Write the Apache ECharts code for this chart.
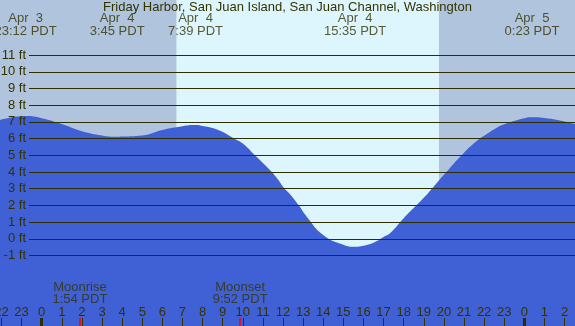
<!DOCTYPE html>
<html>
<head>
<meta charset="utf-8">
<script src="https://cdn.jsdelivr.net/npm/echarts@6/dist/echarts.min.js"></script>
<style>
  html, body { margin: 0; padding: 0; background: #ffffff; }
  #chart { width: 575px; height: 326px; }
</style>
</head>
<body>
<div id="chart"></div>
<script>
// tide heights (ft), hours counted from Apr 4 00:00 PDT
const tideHours = [-2.1, -0.8, 0, 1, 2, 3, 3.75, 4, 5, 6, 7, 7.65, 8, 8.45, 9, 9.5, 10, 10.6, 11, 11.44, 11.77, 12, 12.35, 12.78, 13.18, 14, 15, 15.58, 16, 16.49, 17, 17.32, 18, 19, 19.56, 20, 21, 21.8, 22, 22.63, 23, 24, 24.38, 25, 26, 26.6];
const tideFeet = [7.1, 7.35, 7.22, 6.87, 6.44, 6.19, 6.11, 6.12, 6.19, 6.52, 6.74, 6.81, 6.76, 6.65, 6.4, 6.05, 5.7, 5.0, 4.54, 4.0, 3.52, 3.12, 2.66, 2.0, 1.32, 0.22, -0.36, -0.48, -0.42, -0.24, 0.11, 0.33, 1.23, 2.45, 3.22, 3.83, 5.16, 6.02, 6.17, 6.65, 6.86, 7.22, 7.28, 7.23, 7.03, 6.85];

// high / low tide labels
const extremeHours = [-0.8, 3.75, 7.65, 15.583, 24.383];
const extremeDates = ['Apr  3', 'Apr  4', 'Apr  4', 'Apr  4', 'Apr  5'];
const extremeTimes = ['23:12 PDT', '3:45 PDT', '7:39 PDT', '15:35 PDT', '0:23 PDT'];

// moon events
const moonHours = [1.9, 9.867, 26.683];
const moonNames = ['Moonrise', 'Moonset', 'Moonrise'];
const moonTimes = ['1:54 PDT', '9:52 PDT', '2:41 PDT'];

// sunrise / sunset
const sunrise = 6.713;
const sunset = 19.756;
const midnights = [0, 24];

const feetTicks = { min: -1, max: 11 };
const hourTicks = { min: -2, max: 26 };

// layout
const W = 575, H = 326;
const X_ZERO = 41.7;      // pixel of Apr 4 00:00
const PX_PER_H = 20.11;
const Y_ZERO = 238.75;    // pixel of 0 ft
const PX_PER_FT = 16.69;
const TOP_LABEL_Y = 24.75;
const MOON_LABEL_Y = 293.5;
const TEXT = '#333300';
const FONT = 'Liberation Sans';

const xMin = -X_ZERO / PX_PER_H;
const xMax = (W - X_ZERO) / PX_PER_H;
const yMin = (Y_ZERO - H) / PX_PER_FT;
const yMax = Y_ZERO / PX_PER_FT;
const ftToPx = v => Y_ZERO - v * PX_PER_FT;
const hToPx = h => X_ZERO + h * PX_PER_H;

const chart = echarts.init(document.getElementById('chart'));

const labelStyle = {
  show: true, position: 'inside', formatter: p => p.name,
  fontSize: 13, lineHeight: 12.5, color: TEXT, fontFamily: FONT, align: 'center'
};

const option = {
  animation: false,
  textStyle: { fontFamily: FONT },
  title: {
    text: 'Friday Harbor, San Juan Island, San Juan Channel, Washington',
    left: 'center',
    top: 1,
    padding: 0,
    textStyle: { fontSize: 13, fontWeight: 'normal', color: TEXT, fontFamily: FONT }
  },
  grid: [
    { left: 0, right: 0, top: 0, bottom: 0, outerBoundsMode: 'none', containLabel: false },
    { left: 29, right: 0, top: ftToPx(feetTicks.max), bottom: H - ftToPx(feetTicks.min), outerBoundsMode: 'none', containLabel: false },
    { left: hToPx(hourTicks.min), right: W - hToPx(hourTicks.max), top: 318, height: 8, outerBoundsMode: 'none', containLabel: false }
  ],
  xAxis: [
    { gridIndex: 0, type: 'value', min: xMin, max: xMax, show: false },
    { gridIndex: 1, type: 'value', min: 0, max: 1, show: false },
    {
      gridIndex: 2, type: 'value', min: hourTicks.min, max: hourTicks.max, interval: 1,
      position: 'bottom', z: 5,
      axisLine: { show: false },
      axisTick: { show: true, inside: true, length: 8, lineStyle: { color: TEXT, width: 1 } },
      axisLabel: { show: false },
      splitLine: { show: false }
    },
    {
      gridIndex: 2, type: 'value', min: hourTicks.min, max: hourTicks.max, interval: 1,
      position: 'top', z: 5,
      axisLine: { show: false },
      axisTick: { show: false },
      splitLine: { show: false },
      axisLabel: {
        margin: -1, fontSize: 13, lineHeight: 13, color: TEXT, fontFamily: FONT,
        showMinLabel: true, showMaxLabel: true, hideOverlap: false,
        formatter: v => String(((v % 24) + 24) % 24)
      }
    }
  ],
  yAxis: [
    { gridIndex: 0, type: 'value', min: yMin, max: yMax, show: false },
    {
      gridIndex: 1, type: 'value', min: feetTicks.min, max: feetTicks.max, interval: 1, z: 5,
      axisLine: { show: false },
      axisTick: { show: false },
      axisLabel: { margin: 3, fontSize: 13, color: TEXT, fontFamily: FONT, formatter: '{value} ft' },
      splitLine: { show: true, lineStyle: { color: '#2e2e00', width: 1 } }
    },
    { gridIndex: 2, type: 'value', min: 0, max: 1, show: false }
  ],
  series: [
    {
      // day / night shading
      type: 'line', xAxisIndex: 0, yAxisIndex: 0, z: 1, data: [], silent: true,
      markArea: {
        silent: true,
        data: [
          [{ xAxis: xMin, itemStyle: { color: '#b0c4de' } }, { xAxis: sunrise }],
          [{ xAxis: sunrise, itemStyle: { color: '#ddf6fd' } }, { xAxis: sunset }],
          [{ xAxis: sunset, itemStyle: { color: '#b0c4de' } }, { xAxis: xMax }]
        ]
      }
    },
    {
      type: 'line', xAxisIndex: 0, yAxisIndex: 0, z: 2,
      data: tideHours.map((h, i) => [h, tideFeet[i]]),
      smooth: 0.5, showSymbol: false, silent: true,
      lineStyle: { width: 0 },
      areaStyle: { color: '#4060d5', opacity: 1, origin: 'start' }
    },
    {
      type: 'scatter', xAxisIndex: 0, yAxisIndex: 0, z: 6, silent: true,
      symbolSize: 1, itemStyle: { color: 'rgba(0,0,0,0)' },
      data: extremeHours.map((h, i) => ({ value: [h, (Y_ZERO - TOP_LABEL_Y) / PX_PER_FT], name: extremeDates[i] + '\n' + extremeTimes[i] })),
      label: labelStyle
    },
    {
      type: 'scatter', xAxisIndex: 0, yAxisIndex: 0, z: 6, silent: true,
      symbolSize: 1, itemStyle: { color: 'rgba(0,0,0,0)' },
      data: moonHours.map((h, i) => ({ value: [h, (Y_ZERO - MOON_LABEL_Y) / PX_PER_FT], name: moonNames[i] + '\n' + moonTimes[i] })),
      label: labelStyle
    },
    {
      // midnight and moon event ticks
      type: 'scatter', xAxisIndex: 2, yAxisIndex: 2, z: 7, silent: true,
      symbolSize: 1, itemStyle: { color: 'rgba(0,0,0,0)' },
      data: moonHours.map(h => [h, 0]),
      markLine: {
        silent: true, symbol: 'none', label: { show: false },
        data: midnights.map(h => ({ xAxis: h, lineStyle: { color: '#2a2a00', width: 3, type: 'solid' } }))
          .concat(moonHours.map(h => ({ xAxis: h, lineStyle: { color: '#ff0000', width: 1.5, type: 'solid' } })))
      }
    }
  ]
};

chart.setOption(option);
</script>
</body>
</html>
